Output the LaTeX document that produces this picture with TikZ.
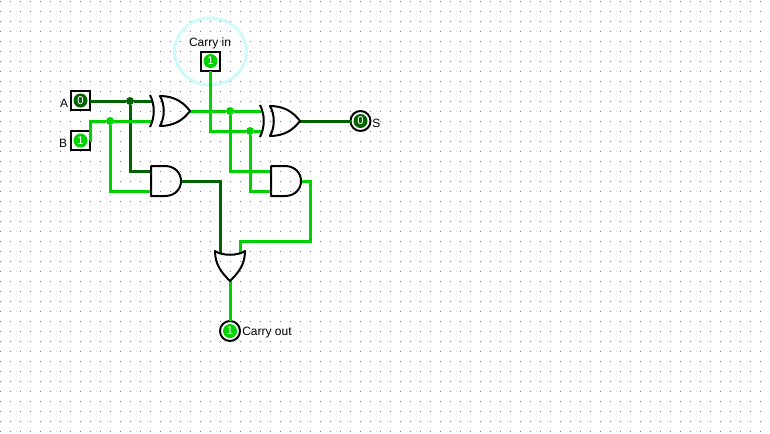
\documentclass[tikz,border=0pt]{standalone}
\usepackage{fontspec}
\setmainfont{Liberation Sans}
\definecolor{wlo}{RGB}{0,100,0}
\definecolor{whi}{RGB}{0,210,0}
\definecolor{halo}{RGB}{205,250,250}
\definecolor{griddot}{RGB}{120,120,120}
\tikzset{
  wirelo/.style={draw=wlo,line width=2.25pt,line join=miter},
  wirehi/.style={draw=whi,line width=2.25pt,line join=miter},
  gateline/.style={draw=black,line width=1.5pt,line join=round},
  lbl/.style={font=\fontsize{9pt}{10pt}\selectfont,inner sep=0pt,text=black},
  inbox/.style={draw=black,line width=1.5pt,fill=white,minimum size=14.25pt,inner sep=0pt,outer sep=0pt},
  outcirc/.style={draw=black,line width=1.5pt,fill=white,circle,minimum size=15pt,inner sep=0pt,outer sep=0pt},
  vallo/.style={circle,fill=wlo,minimum size=10.5pt,inner sep=0pt,text=white,font=\fontsize{8.5pt}{8.5pt}\selectfont},
  valhi/.style={circle,fill=whi,minimum size=10.5pt,inner sep=0pt,text=white,font=\fontsize{8.5pt}{8.5pt}\selectfont},
  joinlo/.style={circle,fill=wlo,minimum size=6pt,inner sep=0pt},
  joinhi/.style={circle,fill=whi,minimum size=6pt,inner sep=0pt}
}
\begin{document}
\begin{tikzpicture}[x=0.75pt,y=-0.75pt]
\useasboundingbox (0,0) rectangle (770,433);
\fill[white] (0,0) rectangle (770,433);
% grid
\foreach \i in {0,...,76}{\foreach \j in {0,...,43}{
  \fill[griddot] ({\i*10-0.5},{\j*10+0.5}) rectangle ++(1,1);}}
% halo
\draw[halo,line width=2.25pt] (210.5,51.5) ellipse [x radius=36,y radius=33.5];
% pins and junctions
\node[inbox] (A) at (80.5,100.5) {};
\node[inbox] (B) at (80.5,140.5) {};
\node[inbox] (C) at (210.5,61) {};
\node[outcirc] (S) at (360.5,121) {};
\node[outcirc] (O) at (230,331) {};
\coordinate (x1a) at (152,101);
\coordinate (x1b) at (152,121);
\coordinate (x1o) at (190,111);
\coordinate (x2a) at (262,111);
\coordinate (x2b) at (262,131);
\coordinate (x2o) at (300,121);
\coordinate (a1a) at (151,171);
\coordinate (a1b) at (151,191);
\coordinate (a1o) at (181,181);
\coordinate (a2a) at (271,171);
\coordinate (a2b) at (271,191);
\coordinate (a2o) at (301,181);
\coordinate (ora) at (220,253);
\coordinate (orb) at (240,253);
\coordinate (oro) at (230,281);
\node[joinlo] (j1) at (130,101) {};
\node[joinhi] (j2) at (110,121) {};
\node[joinhi] (j3) at (230,111) {};
\node[joinhi] (j4) at (250,131) {};
% wires
\draw[wirelo] (A.east) ++(0,0.5) -- (j1) -- (x1a);
\draw[wirelo] (j1) |- (a1a);
\draw[wirehi] (B.east) -| (90.5,121) -- (j2) -- (x1b);
\draw[wirehi] (j2) |- (a1b);
\draw[wirehi] (x1o) -- (j3) -- (x2a);
\draw[wirehi] (j3) |- (a2a);
\draw[wirehi] (C.south) |- (j4) -- (x2b);
\draw[wirehi] (j4) |- (a2b);
\draw[wirelo] (x2o) -- (S.west);
\draw[wirelo] (a1o) -| (ora);
\draw[wirehi] (a2o) -| (310,241) -| (orb);
\draw[wirehi] (oro) -- (O.north);
% gates
\draw[gateline] (150,95) .. controls (155,105) and (155,117) .. (150,127);
\draw[gateline] (160,96) .. controls (175,96) and (184,103) .. (x1o) .. controls (184,119) and (175,126) .. (160,126) .. controls (165,117) and (165,105) .. cycle;
\draw[gateline] (260,105) .. controls (265,115) and (265,127) .. (260,137);
\draw[gateline] (270,106) .. controls (285,106) and (294,113) .. (x2o) .. controls (294,129) and (285,136) .. (270,136) .. controls (275,127) and (275,115) .. cycle;
\draw[gateline] (151,166) -- (165,166) .. controls (175,166) and (181,173) .. (a1o) .. controls (181,189) and (175,196) .. (165,196) -- (151,196) -- cycle;
\draw[gateline] (271,166) -- (285,166) .. controls (295,166) and (301,173) .. (a2o) .. controls (301,189) and (295,196) .. (285,196) -- (271,196) -- cycle;
\draw[gateline] (215,251) .. controls (222,256) and (238,256) .. (245,251) .. controls (245,265) and (238,273) .. (oro) .. controls (222,273) and (215,265) .. cycle;
% values
\node[vallo] at (A) {0};
\node[valhi] at (B) {1};
\node[valhi] at (C) {1};
\node[vallo] at (S) {0};
\node[valhi] at (O) {1};
% labels
\node[lbl,anchor=east] (tA) at (68.5,103) {A};
\node[lbl,anchor=east] (tB) at (67.5,143) {B};
\node[lbl] (tC) at (210,43) {Carry in};
\node[lbl,anchor=west] (tS) at (372,123) {S};
\node[lbl,anchor=west] (tO) at (242,333) {Carry out};
\end{tikzpicture}
\end{document}
